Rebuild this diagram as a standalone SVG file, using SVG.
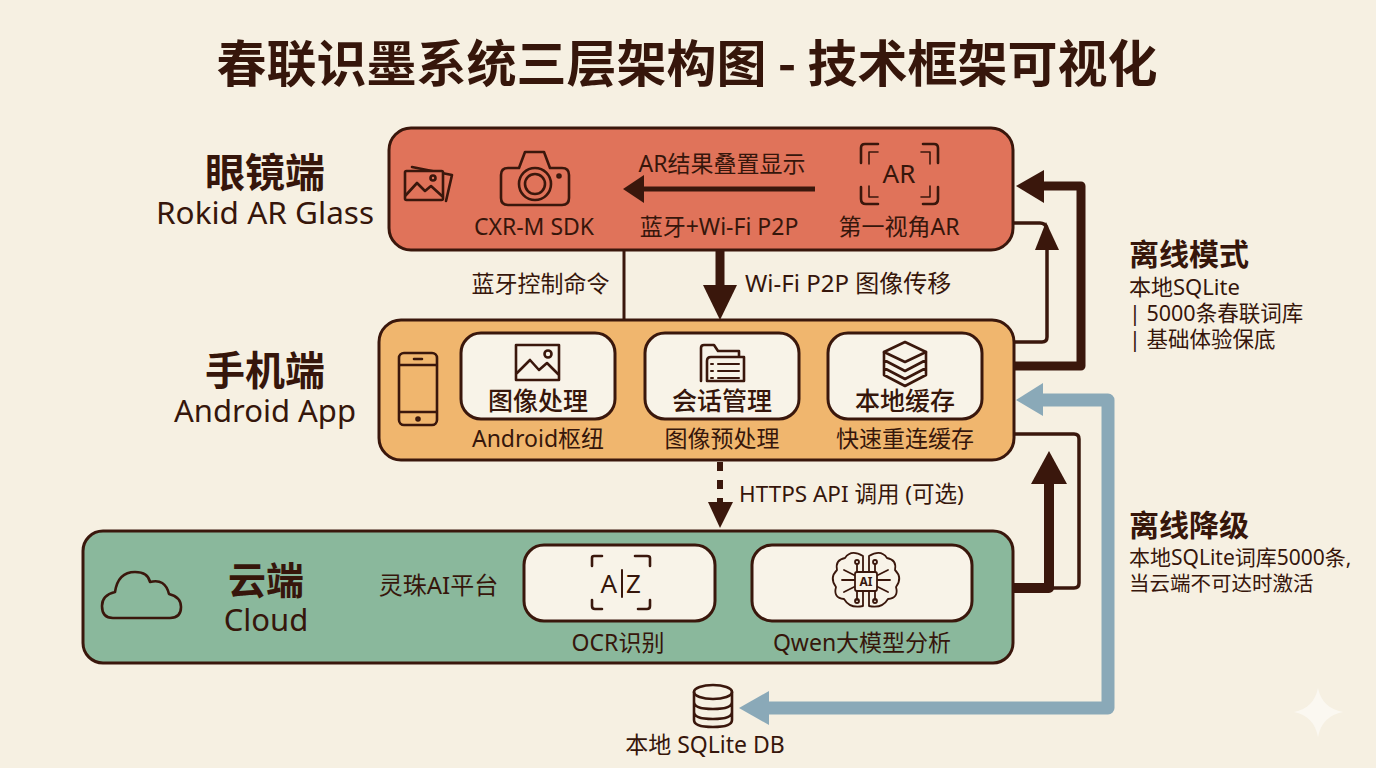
<svg xmlns="http://www.w3.org/2000/svg" width="1376" height="768" viewBox="0 0 1376 768">
<style>
text{font-family:"Noto Sans","Noto Sans CJK SC",sans-serif;fill:#36160b;text-anchor:middle}
.cjk{font-family:"Noto Sans CJK SC","Noto Sans",sans-serif}
.b{font-weight:700}
.s{font-size:23px}
.sm{font-size:21.5px}
.l{text-anchor:start}
.tier{stroke:#3a170c;stroke-width:3}
.card{fill:#f8f3e8;stroke:#3a170c;stroke-width:3}
.ic{fill:none;stroke:#3a170c;stroke-width:2.6;stroke-linejoin:round;stroke-linecap:round}
.ln{fill:none;stroke:#3a170c;stroke-linejoin:round}
.hd{fill:#3a170c}
</style>
<rect width="1376" height="768" fill="#f6f0e2"/>
<text id="title" class="cjk b" x="687" y="82" font-size="50">春联识墨系统三层架构图 - 技术框架可视化</text>

<g id="connectors">
<path class="ln" stroke-width="3" d="M624 250V320"/>
<path class="ln" stroke-width="9" d="M720 250V288"/>
<path class="hd" d="M703 285H737L720 320Z"/>
<path class="ln" stroke-width="6" stroke-dasharray="9 9" d="M720 462V505"/>
<path class="hd" d="M708 502H733L720 528Z"/>
<path class="ln" stroke-width="9" d="M1014 366H1081V186H1040"/>
<path class="hd" d="M1016 186L1044 170V203Z"/>
<path class="ln" stroke-width="3.5" d="M1014 342H1042Q1047 342 1047 337V245M1013 223H1040Q1045 223 1047 228"/>
<path class="hd" d="M1046 222L1059 250H1035Z"/>
<path class="ln" stroke-width="13" style="stroke:#8aa9b8" d="M1040 400H1108V708H765"/>
<path d="M1016 400L1043 383V416Z" fill="#8aa9b8"/>
<path d="M739 708L769 691V725Z" fill="#8aa9b8"/>
<path class="ln" stroke-width="3.5" d="M1014 434H1074Q1079 434 1079 439V583Q1079 588 1074 588H1050"/>
<path class="ln" stroke-width="10" d="M1014 588H1049V480"/>
<path class="hd" d="M1049 451L1067 484H1031Z"/>
</g>

<g id="glasses">
<text class="cjk b" x="265" y="187" font-size="40">眼镜端</text>
<text x="265" y="224" font-size="31.5">Rokid AR Glass</text>
<rect class="tier" x="389" y="128" width="624" height="122" rx="22" fill="#e0735a"/>
<g class="ic">
<path d="M412 167L452 175L446 201"/>
<rect x="405" y="171" width="38" height="29" rx="1.5" fill="#e0735a"/>
<path d="M406 195L417 183L425 191L431 186L442 196"/><circle cx="433" cy="178" r="2.5"/>
<path d="M501 175Q501 168 508 168H519L525 152H544L550 168H562Q569 168 569 175V198Q569 205 562 205H508Q501 205 501 198Z"/>
<circle cx="535" cy="184" r="16"/><circle cx="535" cy="184" r="10"/><circle cx="559" cy="176" r="1.5"/>
<path d="M861 163V148Q861 144 865 144H878M923 144H934Q938 144 938 148V163M861 187V199Q861 204 866 204H878M938 187V199Q938 204 933 204H923"/>
<path d="M869 164V152H878M930 164V152H921M869 186V197H878M930 186V197H921" stroke-width="1.6"/>
</g>
<text x="899" y="183" font-size="26">AR</text>
<text class="s" x="534" y="235">CXR-M SDK</text>
<text class="s" x="722" y="172">AR结果叠置显示</text>
<path class="ln" stroke-width="5" d="M815 189H640"/>
<path class="hd" d="M623 189L644 175V203Z"/>
<text class="s" x="719" y="235">蓝牙+Wi-Fi P2P</text>
<text class="s" x="899" y="235">第一视角AR</text>
</g>

<text id="label-bt" x="540.500" y="292" font-size="23">蓝牙控制命令</text>
<text id="label-wifi" class="l" x="745" y="292" font-size="24">Wi-Fi P2P 图像传移</text>

<g id="phone">
<text class="cjk b" x="265" y="385" font-size="40">手机端</text>
<text x="265" y="422" font-size="31">Android App</text>
<rect class="tier" x="379" y="320" width="635" height="140" rx="22" fill="#f0b66e"/>
<g class="ic">
<rect x="399" y="353" width="38" height="72" rx="5"/>
<path d="M400 365H436M400 412H436M414 359H422"/><circle cx="418" cy="419" r="1.5"/>
</g>
<rect class="card" x="461" y="333" width="154" height="86" rx="20"/>
<rect class="card" x="645" y="333" width="154" height="86" rx="20"/>
<rect class="card" x="828" y="333" width="154" height="86" rx="20"/>
<g class="ic">
<rect x="516" y="345" width="43" height="35"/><path d="M517 373L530 360L539 370L547 363L558 374"/><circle cx="548" cy="354" r="3.5"/>
<path d="M701 381V348Q701 345 704 345H714L718 351H739V356M707 381V361Q707 357 711 357H744V381Z"/>
<path d="M718 364H739M718 371H739M718 378H739M711 364H713M711 371H713M711 378H713" stroke-width="2"/>
<path d="M905 342L926 352L905 362L884 352Z"/>
<path d="M884 352V360L905 371L926 360V352M884 360V368L905 379L926 368V360M884 368V375L905 386L926 375V368"/>
</g>
<text class="cjk" x="538" y="410" font-size="25" style="font-weight:500">图像处理</text>
<text class="cjk" x="722" y="410" font-size="25" style="font-weight:500">会话管理</text>
<text class="cjk" x="905" y="410" font-size="25" style="font-weight:500">本地缓存</text>
<text class="s" x="538" y="447">Android枢纽</text>
<text class="s" x="722" y="447">图像预处理</text>
<text class="s" x="905" y="447">快速重连缓存</text>
</g>

<text id="label-https" class="l" x="739" y="502" font-size="22.500">HTTPS API 调用 (可选)</text>

<g id="cloud">
<rect class="tier" x="83" y="531" width="930" height="132" rx="20" fill="#8ab89c"/>
<path class="ic" d="M113 618Q102 618 102 606Q102 595 115 592Q118 572 135 572Q148 572 150 582Q165 578 169 594Q181 597 181 607Q181 618 170 618Z"/>
<text class="cjk b" x="266" y="594" font-size="38">云端</text>
<text x="266" y="631" font-size="31">Cloud</text>
<text x="438.500" y="594" font-size="24">灵珠AI平台</text>
<rect class="card" x="524" y="545" width="191" height="76" rx="20"/>
<rect class="card" x="752" y="545" width="220" height="76" rx="20"/>
<g class="ic">
<path d="M592 566V558Q592 556 594 556H602M635 556H647Q650 556 650 558V566M592 600V606Q592 609 595 609H602M638 609H647Q650 609 650 606V600"/>
<path d="M622 570V597" stroke-width="2"/>
<g stroke-width="1.8">
<path d="M863 556Q851 549 845 558Q835 560 837 570Q829 578 836 587Q833 598 844 599Q850 609 863 606V556Z"/>
<path d="M869 556Q881 549 887 558Q897 560 895 570Q903 578 896 587Q899 598 888 599Q882 609 869 606V556Z"/>
<path d="M857 564V574M875 564V574M857 590V600M875 590V600M842 580H856M876 580H890M844 570L856 576M888 570L876 576M844 592L856 586M888 592L876 586"/>
<circle cx="857" cy="562" r="2"/><circle cx="875" cy="562" r="2"/><circle cx="857" cy="601" r="2"/><circle cx="875" cy="601" r="2"/>
<rect x="855" y="572" width="22" height="19" rx="2" fill="#f8f3e8"/>
</g>
</g>
<text x="617" y="593" font-size="26" style="text-anchor:end">A</text>
<text x="626" y="593" font-size="26" style="text-anchor:start">Z</text>
<text x="866" y="586" font-size="12" class="b">AI</text>
<text class="s" x="618" y="651">OCR识别</text>
<text class="s" x="862" y="651">Qwen大模型分析</text>
</g>

<g id="sqlite">
<g class="ic">
<ellipse cx="713" cy="692" rx="19" ry="7"/>
<path d="M694 692V720Q694 727 713 727Q732 727 732 720V692M694 702Q694 709 713 709Q732 709 732 702M694 712Q694 719 713 719Q732 719 732 712"/>
</g>
<text x="705" y="753" font-size="23">本地 SQLite DB</text>
</g>

<g id="offline-mode">
<text class="cjk b l" x="1129" y="265" font-size="30">离线模式</text>
<text class="l" x="1129" y="295" font-size="22">本地SQLite</text>
<text class="sm l" x="1129" y="321">| 5000条春联词库</text>
<text class="sm l" x="1129" y="347">| 基础体验保底</text>
</g>
<g id="offline-degrade">
<text class="cjk b l" x="1129" y="536" font-size="30">离线降级</text>
<text class="l" x="1129" y="565" font-size="21">本地SQLite词库5000条,</text>
<text class="l" x="1129" y="591" font-size="20.500">当云端不可达时激活</text>
</g>
<path id="sparkle" d="M1318 688Q1322 708 1343 712Q1322 716 1318 737Q1314 716 1294 712Q1314 708 1318 688Z" fill="#fbf8f1"/>
</svg>
